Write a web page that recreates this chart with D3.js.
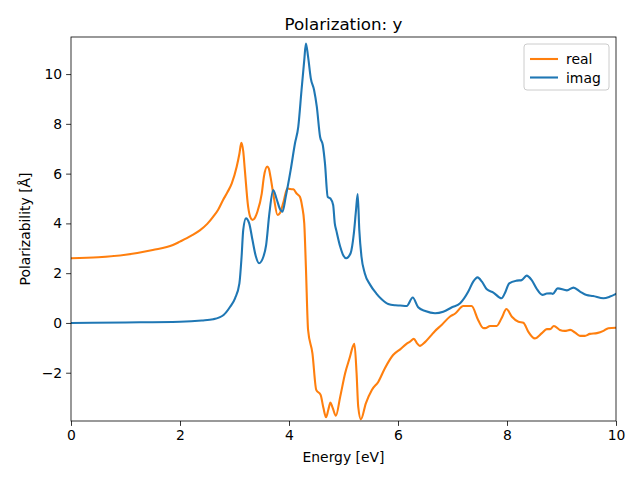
<!DOCTYPE html>
<html>
<head>
<meta charset="utf-8">
<script src="https://cdn.jsdelivr.net/npm/d3@7"></script>
<style>
  body { margin: 0; background: #fff; }
  text { font-family: "DejaVu Sans", sans-serif; }
</style>
</head>
<body>
<div class="svg-content"></div>
<script>
// values
const realX = [0, 0.5, 1.0, 1.5, 1.87, 2.0, 2.2, 2.37, 2.5, 2.61, 2.7, 2.79, 2.87, 2.95, 3.04, 3.09, 3.125, 3.16, 3.19, 3.25, 3.29, 3.33, 3.38, 3.42, 3.5, 3.54, 3.6, 3.63, 3.66, 3.72, 3.79, 3.83, 3.9, 3.97, 4.02, 4.08, 4.14, 4.2, 4.24, 4.28, 4.31, 4.35, 4.43, 4.5, 4.58, 4.63, 4.68, 4.72, 4.76, 4.8, 4.86, 4.94, 5.03, 5.12, 5.17, 5.2, 5.24, 5.27, 5.32, 5.41, 5.52, 5.64, 5.76, 5.91, 6.04, 6.15, 6.22, 6.29, 6.35, 6.4, 6.5, 6.6, 6.68, 6.8, 6.95, 7.05, 7.2, 7.35, 7.47, 7.56, 7.6, 7.69, 7.81, 7.9, 7.99, 8.09, 8.21, 8.3, 8.39, 8.51, 8.64, 8.73, 8.79, 8.86, 8.97, 9.06, 9.16, 9.25, 9.34, 9.43, 9.52, 9.65, 9.77, 9.86, 10];
const realY = [2.6, 2.64, 2.74, 2.93, 3.13, 3.27, 3.5, 3.73, 3.98, 4.27, 4.55, 4.94, 5.25, 5.61, 6.28, 6.8, 7.24, 6.9, 6.14, 4.67, 4.25, 4.14, 4.25, 4.47, 5.2, 5.88, 6.28, 6.2, 5.88, 5.07, 4.34, 4.4, 4.87, 5.41, 5.38, 5.37, 5.2, 5.07, 4.7, 4.0, 2.26, -0.28, -1.22, -2.69, -2.89, -3.4, -3.79, -3.5, -3.2, -3.4, -3.73, -2.96, -2.02, -1.35, -0.95, -0.84, -2.02, -3.36, -3.87, -3.23, -2.69, -2.36, -1.82, -1.29, -1.06, -0.85, -0.75, -0.64, -0.82, -0.92, -0.76, -0.52, -0.32, -0.08, 0.25, 0.38, 0.68, 0.68, 0.12, -0.2, -0.21, -0.12, -0.12, 0.19, 0.56, 0.25, 0.05, 0.01, -0.35, -0.62, -0.41, -0.25, -0.25, -0.12, -0.28, -0.32, -0.28, -0.39, -0.52, -0.52, -0.44, -0.41, -0.32, -0.21, -0.19];

const imagX = [0, 1.0, 2.0, 2.4, 2.61, 2.8, 2.92, 3.01, 3.09, 3.13, 3.16, 3.21, 3.27, 3.33, 3.39, 3.45, 3.53, 3.58, 3.64, 3.71, 3.77, 3.83, 3.88, 3.94, 4.03, 4.11, 4.17, 4.23, 4.28, 4.31, 4.35, 4.4, 4.46, 4.51, 4.57, 4.62, 4.66, 4.71, 4.76, 4.81, 4.84, 4.87, 4.94, 5.0, 5.05, 5.13, 5.19, 5.23, 5.26, 5.29, 5.33, 5.39, 5.49, 5.6, 5.7, 5.82, 5.95, 6.04, 6.16, 6.27, 6.37, 6.5, 6.68, 6.83, 6.99, 7.14, 7.29, 7.38, 7.46, 7.54, 7.63, 7.75, 7.9, 7.96, 8.04, 8.18, 8.27, 8.36, 8.45, 8.54, 8.65, 8.73, 8.8, 8.84, 8.93, 9.1, 9.22, 9.34, 9.46, 9.58, 9.77, 9.89, 10];
const imagY = [0.0, 0.02, 0.05, 0.1, 0.15, 0.32, 0.65, 0.99, 1.59, 2.66, 3.73, 4.2, 4.0, 3.33, 2.69, 2.4, 2.66, 3.13, 4.4, 5.34, 5.0, 4.6, 4.47, 5.07, 6.14, 7.22, 7.88, 9.36, 10.56, 11.23, 10.7, 9.83, 9.36, 8.69, 7.48, 7.15, 6.41, 5.07, 5.0, 4.74, 4.0, 3.7, 3.06, 2.7, 2.6, 2.8, 3.6, 4.54, 5.18, 3.73, 2.66, 2.0, 1.53, 1.19, 0.95, 0.76, 0.71, 0.7, 0.68, 1.02, 0.63, 0.48, 0.39, 0.45, 0.63, 0.79, 1.26, 1.66, 1.83, 1.66, 1.35, 1.22, 0.99, 1.19, 1.59, 1.7, 1.72, 1.9, 1.73, 1.39, 1.13, 1.18, 1.19, 1.17, 1.39, 1.31, 1.42, 1.26, 1.12, 1.08, 0.99, 1.06, 1.17];

const xTicks = [0, 2, 4, 6, 8, 10];
const yTicks = [-2, 0, 2, 4, 6, 8, 10];

const seriesNames = ["real", "imag"];
const seriesColors = ["#ff7f0e", "#1f77b4"];

const svgWidth = 640;
const svgHeight = 480;
const plotLeft = 71, plotRight = 616, plotTop = 37, plotBottom = 421;

const xScale = d3.scaleLinear().domain([0, 10]).range([plotLeft, plotRight]);
const yScale = d3.scaleLinear().domain([-3.94, 11.49]).range([plotBottom, plotTop]);

const svg = d3.select(".svg-content")
              .append("svg")
              .attr("width", svgWidth)
              .attr("height", svgHeight);

const line = d3.line()
               .x(d => xScale(d[0]))
               .y(d => yScale(d[1]))
               .curve(d3.curveMonotoneX);

const series = [
  d3.zip(realX, realY),
  d3.zip(imagX, imagY)
];

svg.append("defs").append("clipPath")
   .attr("id", "plot-clip")
   .append("rect")
   .attr("x", plotLeft).attr("y", plotTop)
   .attr("width", plotRight - plotLeft).attr("height", plotBottom - plotTop);

svg.append("g")
   .attr("clip-path", "url(#plot-clip)")
   .selectAll("path")
   .data(series)
   .enter()
   .append("path")
   .attr("d", line)
   .attr("fill", "none")
   .attr("stroke", (d, i) => seriesColors[i])
   .attr("stroke-width", 2.1)
   .attr("stroke-linejoin", "round")
   .attr("stroke-linecap", "square");

const xAxis = d3.axisBottom(xScale).tickValues(xTicks).tickSizeOuter(0).tickSize(4.9).tickPadding(4);
const yAxis = d3.axisLeft(yScale).tickValues(yTicks).tickSizeOuter(0).tickSize(4.9).tickPadding(4);

const gx = svg.append("g")
   .attr("transform", "translate(0," + plotBottom + ")")
   .attr("id", "x-axis")
   .call(xAxis);

const gy = svg.append("g")
   .attr("transform", "translate(" + plotLeft + ",0)")
   .attr("id", "y-axis")
   .call(yAxis);

[gx, gy].forEach(g => {
  g.select(".domain").remove();
  g.selectAll(".tick line").attr("stroke", "#000").attr("stroke-width", 0.8);
  g.selectAll(".tick text").attr("fill", "#000").style("font-size", "13.9px").style("font-family", "DejaVu Sans");
});

// frame
svg.append("rect")
   .attr("x", plotLeft).attr("y", plotTop)
   .attr("width", plotRight - plotLeft).attr("height", plotBottom - plotTop)
   .attr("fill", "none")
   .attr("stroke", "#000")
   .attr("stroke-width", 0.8);

svg.append("text")
   .attr("x", (plotLeft + plotRight) / 2).attr("y", 30)
   .attr("text-anchor", "middle")
   .style("font-size", "16.7px")
   .text("Polarization: y");

svg.append("text")
   .attr("x", (plotLeft + plotRight) / 2).attr("y", 462)
   .attr("text-anchor", "middle")
   .style("font-size", "13.9px")
   .text("Energy [eV]");

svg.append("text")
   .attr("transform", "translate(30," + ((plotTop + plotBottom) / 2) + ") rotate(-90)")
   .attr("text-anchor", "middle")
   .style("font-size", "13.9px")
   .text("Polarizability [Å]");

// legend
const legend = svg.append("g").attr("transform", "translate(524,44)");
legend.append("rect")
      .attr("width", 85).attr("height", 46)
      .attr("rx", 3).attr("ry", 3)
      .attr("fill", "#fff").attr("fill-opacity", 0.8)
      .attr("stroke", "#cccccc").attr("stroke-width", 1);

const items = legend.selectAll(".item")
      .data(seriesNames)
      .enter()
      .append("g")
      .attr("class", "item")
      .attr("transform", (d, i) => "translate(0," + (15 + i * 18.5) + ")");

items.append("line")
     .attr("x1", 6).attr("x2", 34)
     .attr("stroke", (d, i) => seriesColors[i])
     .attr("stroke-width", 2.1);

items.append("text")
     .attr("x", 42).attr("y", 5)
     .style("font-size", "13.9px")
     .text(d => d);
</script>
</body>
</html>
